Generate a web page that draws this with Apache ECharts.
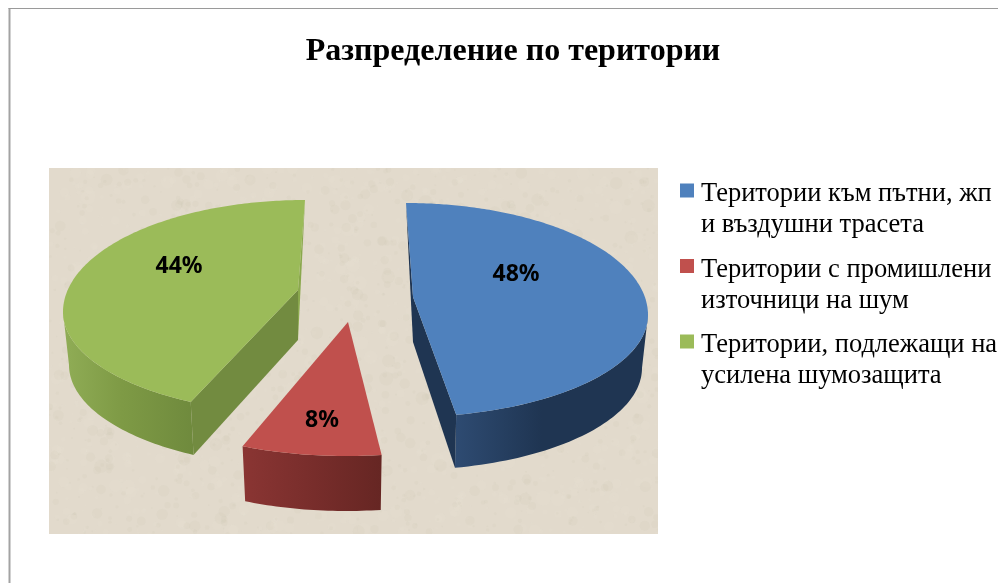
<!DOCTYPE html>
<html>
<head>
<meta charset="utf-8">
<style>
  html, body { margin: 0; padding: 0; background: #fff; }
  #main { width: 998px; height: 583px; }
</style>
<script src="https://cdn.jsdelivr.net/npm/echarts@6/dist/echarts.min.js"></script>
</head>
<body>
<div id="main"></div>
<script>
// data
var titleText = 'Разпределение по територии';
var names = [
  'Територии към пътни, жп\nи въздушни трасета',
  'Територии с промишлени\nизточници на шум',
  'Територии, подлежащи на\nусилена шумозащита'
];
var shares = [48, 8, 44];

var colors = ['#4F81BD', '#C0504D', '#9BBB59'];

// where each exploded slice sits on the page, k is the perspective squeeze
var layout = [
  { cx: 406, cy: 315, ax: 413, ay: 297, depth: 53, apexDepth: 45, k: 0.6, label: [516, 274],
    wall: ['#2E4B72', '#1F3552', '#1F3552'], cut: '#1F3552', sliver: '#1F3552' },
  { cx: 346, cy: 354, ax: 348, ay: 322, depth: 55, apexDepth: 45, k: 0.85, label: [322, 420],
    wall: ['#8A3533', '#7A2E2C', '#662623'] },
  { cx: 305, cy: 312, ax: 298, ay: 290, depth: 53, apexDepth: 50, k: 0.76, label: [179, 266],
    wall: ['#90AD56', '#7E9A45', '#6F8A3D'], cut: '#728B40', sliver: '#8AA84D' }
];

var RX = 242, RY_BACK = 112, RY_FRONT = 102, BOTTOM_RX = 236;

// start / end of every slice in degrees, clockwise from the top
var total = shares.reduce(function (a, b) { return a + b; }, 0);
var ranges = [];
var sum = 0;
shares.forEach(function (v) {
  ranges.push([sum / total * 360, (sum + v) / total * 360]);
  sum += v;
});

function warp(deg, k) {
  var h = deg * Math.PI / 360;
  return 2 * Math.atan2(k * Math.sin(h), Math.cos(h));
}

function rim(l, deg, rx, dy) {
  var w = warp(deg, l.k);
  var c = Math.cos(w);
  return [l.cx + rx * Math.sin(w), l.cy + dy - c * (c > 0 ? RY_BACK : RY_FRONT)];
}

function arc(l, from, to, rx, dy) {
  var pts = [];
  var n = Math.max(2, Math.ceil(Math.abs(to - from)));
  for (var i = 0; i <= n; i++) {
    pts.push(rim(l, from + (to - from) * i / n, rx, dy));
  }
  return pts;
}

function renderSlice(params, api) {
  var i = params.seriesIndex;
  var l = layout[i];
  var r = ranges[i];
  var kids = [];

  // outer wall, only the part facing the viewer (between the ellipse's side extremes)
  var side = 2 * Math.atan(1 / l.k) * 180 / Math.PI;
  var from = Math.max(r[0], side), to = Math.min(r[1], 360 - side);
  var wall = arc(l, from, to, RX, 0).concat(arc(l, to, from, BOTTOM_RX, l.depth));
  kids.push({
    type: 'polygon',
    shape: { points: wall },
    style: {
      fill: new echarts.graphic.LinearGradient(0, 0, 1, 0, [
        { offset: 0, color: l.wall[0] },
        { offset: 0.45, color: l.wall[1] },
        { offset: 1, color: l.wall[2] }
      ])
    }
  });

  // cut faces, the red slice shows none
  if (l.cut) {
    var aBottomY = l.ay + l.apexDepth;
    var near = i === 0 ? r[1] : r[0];
    var far = i === 0 ? r[0] : r[1];
    kids.push({
      type: 'polygon',
      shape: { points: [[l.ax, l.ay], rim(l, near, RX, 0), rim(l, near, BOTTOM_RX, l.depth), [l.ax, aBottomY]] },
      style: { fill: l.cut }
    });
    kids.push({
      type: 'polygon',
      shape: { points: [rim(l, far, RX, 0), [l.ax, aBottomY], [l.ax, l.ay]] },
      style: { fill: l.sliver }
    });
  }

  // top face
  kids.push({
    type: 'polygon',
    shape: { points: [[l.ax, l.ay]].concat(arc(l, r[0], r[1], RX, 0)) },
    style: { fill: api.visual('color') }
  });

  kids.push({
    type: 'text',
    style: {
      x: l.label[0],
      y: l.label[1],
      text: api.value(0) + '%',
      fill: '#000',
      font: 'bold 23px "Noto Sans"',
      align: 'center',
      verticalAlign: 'middle'
    }
  });

  return { type: 'group', children: kids };
}

// paper texture behind the pie
function paperTexture(w, h) {
  var c = document.createElement('canvas');
  c.width = w;
  c.height = h;
  var g = c.getContext('2d');
  g.fillStyle = '#E2DACC';
  g.fillRect(0, 0, w, h);
  var seed = 12345;
  function next() {
    seed = (seed * 1103515 + 12345) % 2147483648;
    return seed / 2147483648;
  }
  for (var i = 0; i < 2500; i++) {
    var r = 0.8 + next() * next() * 7;
    g.fillStyle = next() > 0.55 ? 'rgba(190,180,160,0.07)' : 'rgba(245,240,230,0.07)';
    g.beginPath();
    g.arc(next() * w, next() * h, r, 0, Math.PI * 2);
    g.fill();
  }
  return c;
}

var myChart = echarts.init(document.getElementById('main'));

var option = {
  animation: false,
  color: colors,
  title: {
    text: titleText,
    left: 508,
    top: 31,
    textAlign: 'center',
    textStyle: { fontFamily: 'Liberation Serif', fontWeight: 'bold', fontSize: 32, color: '#000' }
  },
  legend: {
    orient: 'vertical',
    left: 680,
    top: 154.5,
    padding: 0,
    itemGap: -9,
    itemWidth: 14,
    itemHeight: 14,
    icon: 'rect',
    // blank first row keeps the marker level with the first text line
    formatter: function (name) {
      var lines = name.split('\n').map(function (t) { return '{a|' + t + '}'; });
      return '{b| }\n' + lines.join('\n');
    },
    textStyle: {
      color: '#000',
      rich: {
        a: { fontFamily: 'Liberation Serif', fontSize: 26.5, lineHeight: 31, color: '#000', padding: [0, 0, 0, 2] },
        b: { fontSize: 10, lineHeight: 39 }
      }
    },
    data: names
  },
  graphic: [
    { type: 'image', z: -10, style: { image: paperTexture(609, 366), x: 49, y: 168, width: 609, height: 366 } },
    { type: 'rect', z: -9, shape: { x: 8.5, y: 8, width: 2, height: 575 }, style: { fill: '#A3A3A3' } },
    { type: 'rect', z: -9, shape: { x: 8.5, y: 8, width: 990, height: 1 }, style: { fill: '#9A9A9A' } }
  ],
  series: names.map(function (name, i) {
    return {
      type: 'custom',
      name: name,
      coordinateSystem: 'none',
      renderItem: renderSlice,
      data: [[shares[i]]]
    };
  })
};

myChart.setOption(option);
</script>
</body>
</html>
